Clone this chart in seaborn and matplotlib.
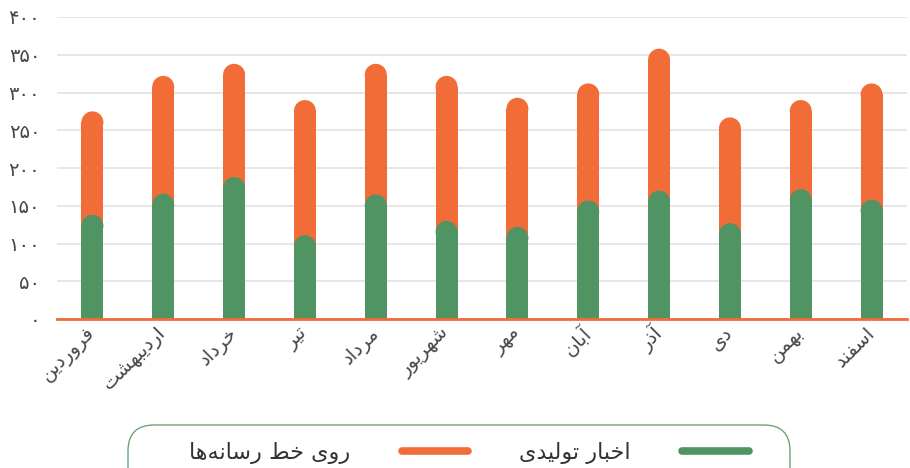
import matplotlib
matplotlib.use('Agg')
import matplotlib.pyplot as plt
from matplotlib.lines import Line2D
from matplotlib.patches import Ellipse, FancyBboxPatch
import seaborn as sns
import pandas as pd

# داده‌ها
mahha = ['فروردین', 'اردیبهشت', 'خرداد', 'تیر', 'مرداد', 'شهریور',
         'مهر', 'آبان', 'آذر', 'دی', 'بهمن', 'اسفند']
akhbar_tolidi = [138, 166, 188, 111, 165, 130, 122, 157, 170, 127, 172, 158]
rooye_khat = [137, 156, 150, 179, 173, 192, 171, 155, 188, 140, 118, 154]
y_ticks = [0, 50, 100, 150, 200, 250, 300, 350, 400]
nam_seri = ['روی خط رسانه‌ها', 'اخبار تولیدی']

narenji = '#F26C38'
sabz = '#519463'

# حروف فارسی به شکل پیوسته (matplotlib خودش شکل‌دهی نمی‌کند)
FORMS = {
    'ا': ('\uFE8D', '\uFE8E', None, None),
    'آ': ('\uFE81', '\uFE82', None, None),
    'ب': ('\uFE8F', '\uFE90', '\uFE91', '\uFE92'),
    'ت': ('\uFE95', '\uFE96', '\uFE97', '\uFE98'),
    'خ': ('\uFEA5', '\uFEA6', '\uFEA7', '\uFEA8'),
    'د': ('\uFEA9', '\uFEAA', None, None),
    'ذ': ('\uFEAB', '\uFEAC', None, None),
    'ر': ('\uFEAD', '\uFEAE', None, None),
    'س': ('\uFEB1', '\uFEB2', '\uFEB3', '\uFEB4'),
    'ش': ('\uFEB5', '\uFEB6', '\uFEB7', '\uFEB8'),
    'ط': ('\uFEC1', '\uFEC2', '\uFEC3', '\uFEC4'),
    'ف': ('\uFED1', '\uFED2', '\uFED3', '\uFED4'),
    'ل': ('\uFEDD', '\uFEDE', '\uFEDF', '\uFEE0'),
    'م': ('\uFEE1', '\uFEE2', '\uFEE3', '\uFEE4'),
    'ن': ('\uFEE5', '\uFEE6', '\uFEE7', '\uFEE8'),
    'ه': ('\uFEE9', '\uFEEA', '\uFEEB', '\uFEEC'),
    'و': ('\uFEED', '\uFEEE', None, None),
    'ی': ('\uFEEF', '\uFEF0', '\uFEF3', '\uFEF4'),
}


def farsi(matn):
    out = []
    for i, ch in enumerate(matn):
        if ch not in FORMS:
            out.append(ch)
            continue
        prev = matn[i - 1] if i > 0 else ''
        nxt = matn[i + 1] if i + 1 < len(matn) else ''
        az_ghabl = prev in FORMS and FORMS[prev][2] is not None
        be_bad = nxt in FORMS and FORMS[ch][2] is not None
        iso, fin, ini, med = FORMS[ch]
        if az_ghabl and be_bad:
            out.append(med)
        elif az_ghabl:
            out.append(fin)
        elif be_bad:
            out.append(ini)
        else:
            out.append(iso)
    return ''.join(c for c in reversed(out) if c != '\u200c')


def farsi_adad(n):
    return str(n).translate(str.maketrans('0123456789', '۰۱۲۳۴۵۶۷۸۹'))


df = pd.DataFrame({'mah': [farsi(m) for m in mahha],
                   'tolidi': akhbar_tolidi,
                   'kol': [a + b for a, b in zip(akhbar_tolidi, rooye_khat)]})

sns.set_style("white")
plt.rcParams['font.family'] = ['DejaVu Sans']

fig = plt.figure(figsize=(9.1, 4.68), dpi=100)
ax = fig.add_axes([57 / 910, 149 / 468, 850 / 910, 302 / 468])

sns.barplot(data=df, x='mah', y='kol', color=narenji, saturation=1, width=0.31, ax=ax)
sns.barplot(data=df, x='mah', y='tolidi', color=sabz, saturation=1, width=0.31, ax=ax)

ax.set_ylim(0, 400)
ax.set_xlim(-0.5, len(mahha) - 0.5)

# میله‌ها با سر گرد: مستطیل کوتاه‌تر + نیم‌دایره بالا
x_px = ax.get_position().width * fig.get_figwidth() * fig.dpi
y_px = ax.get_position().height * fig.get_figheight() * fig.dpi
nesbat = (400 / y_px) / (len(mahha) / x_px)
for p in list(ax.patches):
    x, w, h = p.get_x(), p.get_width(), p.get_height()
    ry = w / 2 * nesbat
    p.set_height(h - ry)
    p.set_linewidth(0)
    p.set_zorder(3)
    ax.add_patch(Ellipse((x + w / 2, h - ry), w, 2 * ry,
                         facecolor=p.get_facecolor(), edgecolor='none', zorder=3))

ax.set_yticks(y_ticks)
ax.set_yticklabels([farsi_adad(v) for v in y_ticks], fontsize=14, color='#484848')
ax.yaxis.grid(True, color='#e2e2e2', linewidth=1.2)
ax.set_axisbelow(True)
ax.tick_params(axis='y', length=0, pad=12)
ax.tick_params(axis='x', length=0, pad=8)
plt.setp(ax.get_xticklabels(), rotation=45, ha='right', va='center',
         rotation_mode='anchor', fontsize=14, color='#484848')
ax.set_xlabel('')
ax.set_ylabel('')
for s in ['left', 'right', 'top']:
    ax.spines[s].set_visible(False)
ax.spines['bottom'].set_color(narenji)
ax.spines['bottom'].set_linewidth(2)
ax.spines['bottom'].set_zorder(5)

dastgire = [Line2D([], [], color=narenji, lw=5.5, solid_capstyle='round'),
            Line2D([], [], color=sabz, lw=5.5, solid_capstyle='round')]
leg = fig.legend(dastgire, [farsi(n) for n in nam_seri], ncol=2, markerfirst=False,
                 loc='upper center', bbox_to_anchor=(469 / 910, 43 / 468),
                 fontsize=16, handlelength=3.0, handletextpad=2.3, columnspacing=2.3,
                 borderpad=0.75, borderaxespad=0, frameon=False,
                 labelcolor='#333333')

# قاب گرد راهنما (پایینش از تصویر بیرون می‌زند)
qab = FancyBboxPatch((1.28, -0.3), 6.62, 0.73,
                     boxstyle="round,pad=0,rounding_size=0.26",
                     transform=fig.dpi_scale_trans, facecolor='none',
                     edgecolor='#6aa57a', linewidth=1)
fig.patches.append(qab)

plt.savefig('out.png', dpi=100)
